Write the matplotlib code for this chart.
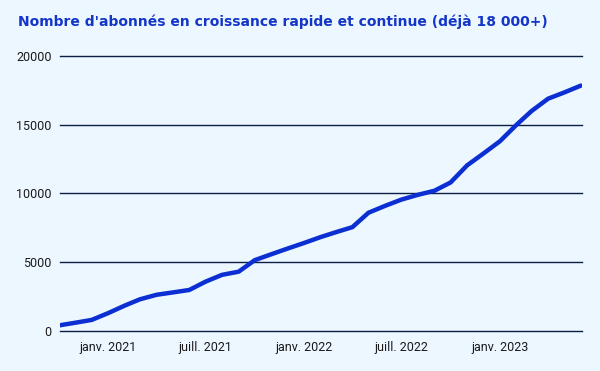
import pandas as pd
import matplotlib.pyplot as plt
import matplotlib.dates as mdates

# abonnés par mois (oct. 2020 -> juin 2023)
months = pd.date_range('2020-10-01', '2023-06-01', freq='MS')
subscribers = [400, 600, 800, 1300, 1850, 2300, 2630, 2800, 2980, 3580,
               4080, 4310, 5150, 5580, 5990, 6400, 6830, 7180, 7550, 8600,
               9100, 9550, 9900, 10200, 10800, 12050, 12900, 13800, 15000,
               16000, 16900, 17350, 17850]

tick_dates = pd.to_datetime(['2021-01-01', '2021-07-01', '2022-01-01',
                             '2022-07-01', '2023-01-01'])
tick_labels = ['janv. 2021', 'juill. 2021', 'janv. 2022', 'juill. 2022', 'janv. 2023']
y_ticks = [0, 5000, 10000, 15000, 20000]

bg = '#EDF7FF'

fig = plt.figure(figsize=(6, 3.71), dpi=100, facecolor=bg)
ax = fig.add_axes([0.1, 0.108, 0.87, 0.741])
ax.set_facecolor(bg)

ax.plot(months, subscribers, color='#0B2FD2', linewidth=3.2,
        solid_joinstyle='round', solid_capstyle='round', zorder=3)

ax.set_ylim(0, 20000)
ax.set_xlim(pd.Timestamp('2020-10-03'), pd.Timestamp('2023-06-03'))
ax.set_yticks(y_ticks)
ax.set_yticklabels([str(v) for v in y_ticks])
ax.set_xticks(mdates.date2num(tick_dates))
ax.set_xticklabels(tick_labels)

for v in y_ticks:
    ax.axhline(v, color='#0A1F44', linewidth=1.0, zorder=1, clip_on=False)

for s in ax.spines.values():
    s.set_visible(False)
ax.tick_params(length=0, labelsize=9, labelcolor='#1a1a1a')
ax.tick_params(axis='y', pad=6)
ax.tick_params(axis='x', pad=7)
for lbl in ax.get_xticklabels() + ax.get_yticklabels():
    lbl.set_fontfamily('Roboto')

fig.text(0.03, 0.93, "Nombre d'abonnés en croissance rapide et continue (déjà 18 000+)",
         fontsize=10, color='#1436C8', fontfamily='DejaVu Sans', fontweight='semibold',
         va='baseline')

fig.savefig('out.png', dpi=100, facecolor=bg)
